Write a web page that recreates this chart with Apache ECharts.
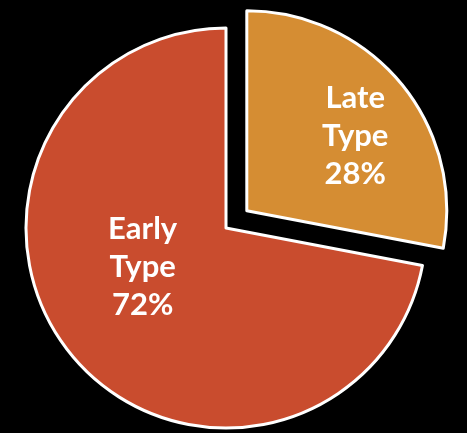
<!DOCTYPE html>
<html>
<head>
<meta charset="utf-8">
<script src="https://cdn.jsdelivr.net/npm/echarts@6/dist/echarts.min.js"></script>
<style>
html,body{margin:0;padding:0;background:#000;}
#chart{width:467px;height:433px;}
</style>
</head>
<body>
<div id="chart"></div>
<script>
const categories = ['Late\nType', 'Early\nType'];
const values = [28, 72];
const colors = ['#D58D33', '#C94C2E'];
const labelShift = [[29, -9], [-4, -27]];

const chart = echarts.init(document.getElementById('chart'));
chart.setOption({
  backgroundColor: '#000',
  animation: false,
  series: [{
    type: 'pie',
    center: [226, 228],
    radius: [0, 200],
    startAngle: 90,
    clockwise: true,
    selectedMode: 'single',
    selectedOffset: 27,
    avoidLabelOverlap: false,
    data: categories.map((c, i) => ({
      name: c,
      value: values[i],
      selected: i === 0,
      itemStyle: { color: colors[i] },
      select: { itemStyle: { color: colors[i], borderColor: '#fff', borderWidth: 3 } }
    })),
    itemStyle: { borderColor: '#fff', borderWidth: 3 },
    label: {
      show: true,
      position: 'inside',
      formatter: p => p.name + '\n' + p.value + '%',
      color: '#fff',
      fontFamily: 'Lato',
      fontWeight: 'bold',
      fontSize: 31,
      lineHeight: 38
    },
    labelLayout: function (p) {
      return { dx: labelShift[p.dataIndex][0], dy: labelShift[p.dataIndex][1] };
    },
    emphasis: { disabled: true },
    labelLine: { show: false }
  }]
});
</script>
</body>
</html>
